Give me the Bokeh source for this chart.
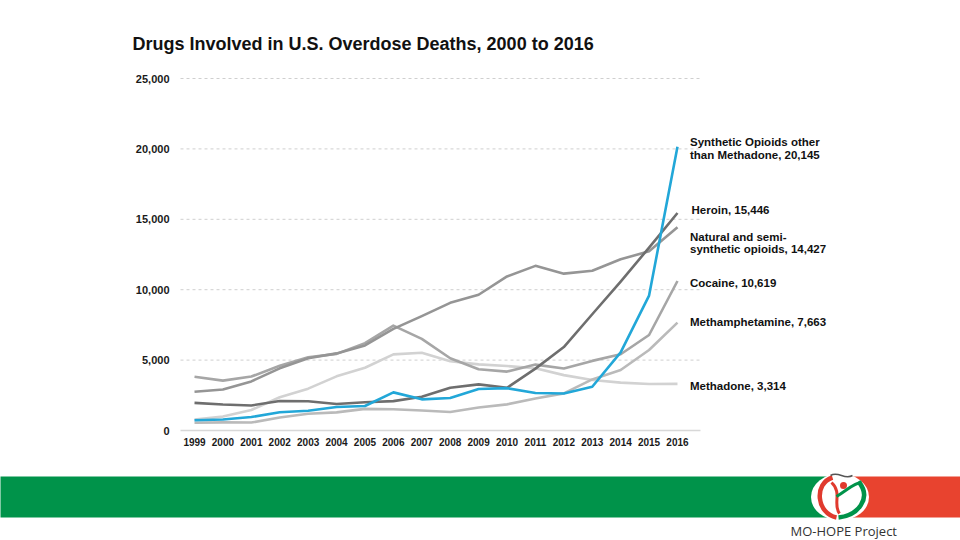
from bokeh.plotting import figure
from bokeh.models import Range1d, FixedTicker, NumeralTickFormatter, Label, LinearAxis
from bokeh.embed import file_html
from bokeh.resources import INLINE
from bokeh.core.properties import value

# ---------------- data ----------------
years = list(range(1999, 2017))
synthetic = [730, 782, 957, 1295, 1400, 1664, 1742, 2707, 2213, 2306, 2946, 3007, 2666, 2628, 3105, 5544, 9580, 20145]
heroin = [1960, 1842, 1779, 2089, 2080, 1878, 2009, 2088, 2399, 3041, 3278, 3036, 4397, 5925, 8257, 10574, 12989, 15446]
natural = [2749, 2917, 3486, 4416, 5135, 5477, 6041, 7215, 8123, 9069, 9641, 10943, 11693, 11140, 11346, 12159, 12727, 14427]
cocaine = [3822, 3544, 3833, 4599, 5199, 5443, 6208, 7448, 6512, 5129, 4350, 4183, 4681, 4404, 4944, 5415, 6784, 10619]
meth = [547, 578, 563, 929, 1191, 1289, 1538, 1511, 1416, 1314, 1631, 1854, 2266, 2635, 3627, 4298, 5716, 7663]
methadone = [784, 988, 1456, 2358, 2972, 3845, 4460, 5406, 5518, 4924, 4696, 4577, 4418, 3932, 3591, 3400, 3301, 3314]

y_ticks = [0, 5000, 10000, 15000, 20000, 25000]
title_text = "Drugs Involved in U.S. Overdose Deaths, 2000 to 2016"
series_labels = [
    ["Synthetic Opioids other", "than Methadone, 20,145"],
    ["Heroin, 15,446"],
    ["Natural and semi-", "synthetic opioids, 14,427"],
    ["Cocaine, 10,619"],
    ["Methamphetamine, 7,663"],
    ["Methadone, 3,314"],
]
brand_text = "MO-HOPE Project"

# ---------------- figure (frame = whole canvas) ----------------
FONT = "Liberation Sans"
X0, X1 = 1998.507, 2016.81          # plotting-area extent in data units
p = figure(width=960, height=540,
           x_range=Range1d(1992.171, 2025.962), y_range=Range1d(-7812.5, 30539.8),
           x_axis_location=None, y_axis_location=None,
           output_backend="svg", toolbar_location=None, min_border=0)
p.outline_line_color = None
p.background_fill_color = "white"
p.border_fill_color = "white"
p.grid.visible = False
# page-pixel helper ranges for decorations / text placement
p.extra_x_ranges = {"px": Range1d(0, 960)}
p.extra_y_ranges = {"px": Range1d(540, 0)}

# axes drawn at fixed positions inside the canvas
yaxis = LinearAxis(fixed_location=X0, ticker=FixedTicker(ticks=y_ticks),
                   formatter=NumeralTickFormatter(format="0,0"))
xaxis = LinearAxis(fixed_location=-213, ticker=FixedTicker(ticks=years))
for ax in (xaxis, yaxis):
    ax.axis_line_color = None
    ax.major_tick_line_color = None
    ax.minor_tick_line_color = None
    ax.major_tick_out = 0
    ax.major_tick_in = 0
    ax.minor_tick_out = 0
    ax.minor_tick_in = 0
    ax.major_label_text_font = FONT
    ax.major_label_text_font_style = "bold"
    ax.major_label_text_color = "#1a1a1a"
yaxis.major_label_text_font_size = "11px"
yaxis.major_label_standoff = 11
xaxis.major_label_text_font_size = "10px"
xaxis.major_label_standoff = 5
p.add_layout(yaxis, "left")
p.add_layout(xaxis, "below")

# dashed gridlines limited to the plotting area, solid baseline
grid_vals = y_ticks[1:]
p.segment(x0=[X0] * len(grid_vals), x1=[X1] * len(grid_vals), y0=grid_vals, y1=grid_vals,
          line_color="#cfcfcf", line_width=1, line_dash="3 3")
p.segment(x0=[X0], x1=[X1], y0=[0], y1=[0], line_color="#d8d8d8", line_width=1.5)

series = [
    (methadone, "#d2d2d2"),
    (meth, "#bababa"),
    (cocaine, "#a6a6a6"),
    (natural, "#959595"),
    (heroin, "#6e6e6e"),
    (synthetic, "#22a7d8"),
]
for vals, col in series:
    p.line(years, vals, line_color=col, line_width=2.6, line_join="round")

# end-of-line labels (page-pixel anchors)
label_pos = [
    (689.5, [141, 154]),
    (691.0, [209.3]),
    (689.5, [236.7, 248.3]),
    (689.5, [282.3]),
    (689.5, [321.7]),
    (689.5, [385]),
]
for lines, (lx, lys) in zip(series_labels, label_pos):
    for txt, ly in zip(lines, lys):
        p.add_layout(Label(x=lx, y=ly, x_range_name="px", y_range_name="px", text=txt,
                           text_font=FONT, text_font_style="bold", text_font_size="11.5px",
                           text_baseline="middle", text_color="#111111"))

p.add_layout(Label(x=132, y=43, x_range_name="px", y_range_name="px", text=title_text,
                   text_font=FONT, text_font_style="bold", text_font_size="18px",
                   text_baseline="middle", text_color="#111111"))

# ---------------- footer band + logo ----------------
GREEN = "#00934a"
RED = "#e8432f"
LRED = "#e03a2e"
kw = dict(x_range_name="px", y_range_name="px")
p.quad(left=-2, right=853, top=476, bottom=517, fill_color=GREEN, line_color=None, **kw)
p.quad(left=848, right=962, top=476, bottom=517, fill_color=RED, line_color=None, **kw)
p.ellipse(x=839.5, y=496.5, width=58, height=47, fill_color="white", line_color=None, **kw)
p.bezier(x0=832, y0=477, x1=836, y1=517, cx0=813, cy0=483, cx1=816, cy1=513,
         line_color=LRED, line_width=4.5, **kw)
p.bezier(x0=858, y0=481, x1=838, y1=517, cx0=872, cy0=498, cx1=857, cy1=515,
         line_color=GREEN, line_width=4.5, **kw)
p.circle(x=843, y=485, radius=3.5, fill_color=LRED, line_color=None, **kw)
p.bezier(x0=831, y0=482, x1=839, y1=513, cx0=842, cy0=492, cx1=832, cy1=504,
         line_color=LRED, line_width=3, **kw)
p.bezier(x0=836, y0=496, x1=861, y1=482, cx0=846, cy0=490, cx1=854, cy1=482,
         line_color=GREEN, line_width=3, **kw)
p.bezier(x0=830, y0=475, x1=852, y1=475, cx0=838, cy0=470, cx1=844, cy1=480,
         line_color="#555555", line_width=1.5, **kw)
p.text(x=[790], y=[530], text=[brand_text], text_font=value("Open Sans"),
       text_font_size="13px", text_color="#333333", text_baseline="middle", **kw)

open("out.html", "w").write(file_html(p, INLINE))
